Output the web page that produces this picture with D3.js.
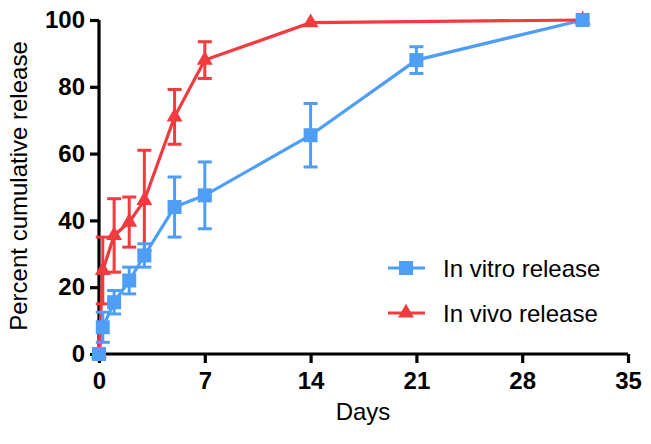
<!DOCTYPE html>
<html>
<head>
<meta charset="utf-8">
<script src="https://cdn.jsdelivr.net/npm/d3@7"></script>
<style>
  body { margin: 0; background: #fff; }
  text { font-family: "Liberation Sans", Arial, sans-serif; }
</style>
</head>
<body>
<div id="chart"></div>
<script>
var w = 651;
var h = 444;

// data
var vitroDays = [0, 0.25, 1, 2, 3, 5, 7, 14, 21, 32];
var vitroMean = [0, 8, 15.5, 22, 29.5, 44, 47.5, 65.5, 88, 100];
var vitroErr  = [0, 4.5, 3.5, 4, 3.5, 9, 10, 9.5, 4, 0];

var vivoDays = [0, 0.25, 1, 2, 3, 5, 7, 14, 32];
var vivoMean = [0, 25, 35.5, 39.5, 46, 71, 88, 99.2, 100];
var vivoErr  = [0, 10, 11, 7.5, 15, 8.2, 5.5, 0, 0];

var xTicks = [0, 7, 14, 21, 28, 35];
var yTicks = [0, 20, 40, 60, 80, 100];

var blue = "#4f9ef5";
var red = "#f23b3f";

var x = d3.scaleLinear().domain([0, 35]).range([99, 628]);
var y = d3.scaleLinear().domain([0, 100]).range([354, 20]);

var svg = d3.select("#chart").append("svg")
    .attr("width", w)
    .attr("height", h);

// axes
var xAxis = svg.append("g")
    .attr("transform", "translate(0," + y(0) + ")")
    .call(d3.axisBottom(x).tickValues(xTicks).tickSize(9).tickPadding(9));
var yAxis = svg.append("g")
    .attr("transform", "translate(" + x(0) + ",0)")
    .call(d3.axisLeft(y).tickValues(yTicks).tickSize(9).tickPadding(5));

[xAxis, yAxis].forEach(function(g) {
    g.select(".domain").attr("stroke", "#000").attr("stroke-width", 3.2);
    g.selectAll(".tick line").attr("stroke", "#000").attr("stroke-width", 3.2);
    g.selectAll(".tick text")
        .attr("fill", "#000")
        .attr("font-size", "24px")
        .attr("font-weight", "bold")
        .attr("font-family", "'Liberation Sans', Arial, sans-serif");
});
// drop the end caps of d3's domain path
xAxis.select(".domain").attr("d", "M" + x(0) + ",0H" + x(35));
yAxis.select(".domain").attr("d", "M0," + y(0) + "V" + y(100));

svg.append("text")
    .text("Days")
    .attr("x", 363)
    .attr("y", 420)
    .attr("text-anchor", "middle")
    .attr("font-size", "24px");

svg.append("text")
    .text("Percent cumulative release")
    .attr("transform", "translate(27,186) rotate(-90)")
    .attr("text-anchor", "middle")
    .attr("font-size", "24px");

function series(days, mean, err) {
    return days.map(function(d, i) { return { x: d, y: mean[i], e: err[i] }; });
}
var vitro = series(vitroDays, vitroMean, vitroErr);
var vivo = series(vivoDays, vivoMean, vivoErr);

var line = d3.line()
    .x(function(d) { return x(d.x); })
    .y(function(d) { return y(d.y); });

function drawLine(data, colour) {
    svg.append("path")
        .datum(data)
        .attr("d", line)
        .attr("fill", "none")
        .attr("stroke", colour)
        .attr("stroke-width", 3.2);
}

function drawErrors(data, colour) {
    var g = svg.append("g").attr("stroke", colour).attr("stroke-width", 3);
    var withErr = data.filter(function(d) { return d.e > 0; });
    g.selectAll(".v").data(withErr).enter().append("line")
        .attr("x1", function(d) { return x(d.x); })
        .attr("x2", function(d) { return x(d.x); })
        .attr("y1", function(d) { return y(d.y - d.e); })
        .attr("y2", function(d) { return y(d.y + d.e); });
    g.selectAll(".t").data(withErr).enter().append("line")
        .attr("x1", function(d) { return x(d.x) - 7; })
        .attr("x2", function(d) { return x(d.x) + 7; })
        .attr("y1", function(d) { return y(d.y + d.e); })
        .attr("y2", function(d) { return y(d.y + d.e); });
    g.selectAll(".b").data(withErr).enter().append("line")
        .attr("x1", function(d) { return x(d.x) - 7; })
        .attr("x2", function(d) { return x(d.x) + 7; })
        .attr("y1", function(d) { return y(d.y - d.e); })
        .attr("y2", function(d) { return y(d.y - d.e); });
}

var squareSym = d3.symbol().type(d3.symbolSquare).size(196);
var triSym = d3.symbol().type(d3.symbolTriangle).size(110);

function drawMarkers(data, sym, colour) {
    svg.append("g").selectAll("path")
        .data(data)
        .enter()
        .append("path")
        .attr("d", sym)
        .attr("transform", function(d) { return "translate(" + x(d.x) + "," + y(d.y) + ")"; })
        .attr("fill", colour);
}

drawLine(vitro, blue);
drawLine(vivo, red);
drawErrors(vivo, red);
drawErrors(vitro, blue);
drawMarkers(vivo, triSym, red);
drawMarkers(vitro, squareSym, blue);

// legend
var legendData = [
    { label: "In vitro release", colour: blue, sym: squareSym, y: 268 },
    { label: "In vivo release", colour: red, sym: triSym, y: 313 }
];
var legend = svg.append("g");
legendData.forEach(function(d) {
    legend.append("line")
        .attr("x1", 388).attr("x2", 425)
        .attr("y1", d.y).attr("y2", d.y)
        .attr("stroke", d.colour)
        .attr("stroke-width", 3.2);
    legend.append("path")
        .attr("d", d.sym)
        .attr("transform", "translate(406," + d.y + ")")
        .attr("fill", d.colour);
    legend.append("text")
        .text(d.label)
        .attr("x", 443)
        .attr("y", d.y + 9)
        .attr("font-size", "24px");
});
</script>
</body>
</html>
